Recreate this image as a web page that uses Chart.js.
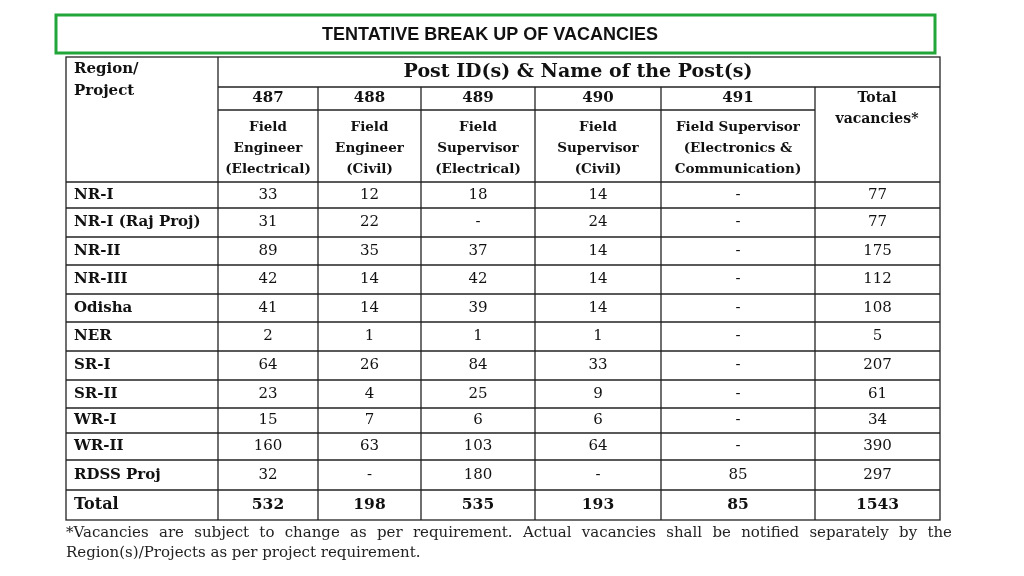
<!DOCTYPE html>
<html><head><meta charset="utf-8">
<script src="https://cdn.jsdelivr.net/npm/chart.js@4"></script>
<style>html,body{margin:0;padding:0;background:#fff}canvas{display:block}</style>
</head><body><canvas id="c" width="1024" height="576"></canvas>
<script>
const title = "TENTATIVE BREAK UP OF VACANCIES";
const postIds = ["487","488","489","490","491"];
const postNames = [["Field","Engineer","(Electrical)"],["Field","Engineer","(Civil)"],["Field","Supervisor","(Electrical)"],["Field","Supervisor","(Civil)"],["Field Supervisor","(Electronics &","Communication)"]];
const regions = ["NR-I","NR-I (Raj Proj)","NR-II","NR-III","Odisha","NER","SR-I","SR-II","WR-I","WR-II","RDSS Proj"];
const v487 = ["33","31","89","42","41","2","64","23","15","160","32"];
const v488 = ["12","22","35","14","14","1","26","4","7","63","-"];
const v489 = ["18","-","37","42","39","1","84","25","6","103","180"];
const v490 = ["14","24","14","14","14","1","33","9","6","64","-"];
const v491 = ["-","-","-","-","-","-","-","-","-","-","85"];
const totals = ["77","77","175","112","108","5","207","61","34","390","297"];
const grandTotals = ["532","198","535","193","85","1543"];
const footnote = ["*Vacancies are subject to change as per requirement. Actual vacancies shall be notified separately by the","Region(s)/Projects as per project requirement."];

const colX = [66,218,318,421,535,661,815,940];
const rowY = [182,208,237,265,294,322,351,380,408,433,460,490,520];

const tablePlugin = {
  id:'table',
  afterDraw(chart){
    const ctx = chart.ctx, xs = chart.scales.x, ys = chart.scales.y;
    const X = v=>xs.getPixelForValue(v), Y = v=>ys.getPixelForValue(v);
    const serif = '"DejaVu Serif", "Liberation Serif", serif';
    ctx.save();
    ctx.textBaseline='middle';
    ctx.strokeStyle='#22a63a'; ctx.lineWidth=3;
    ctx.strokeRect(X(56),Y(15),X(935)-X(56),Y(53)-Y(15));
    ctx.fillStyle='#111'; ctx.font='bold 18px "Liberation Sans", Arial, sans-serif';
    ctx.textAlign='center'; ctx.fillText(title,X(490),Y(35));
    ctx.strokeStyle='#222'; ctx.lineWidth=1.3;
    const line=(x1,y1,x2,y2)=>{ctx.beginPath();ctx.moveTo(X(x1),Y(y1));ctx.lineTo(X(x2),Y(y2));ctx.stroke();};
    ctx.strokeRect(X(66),Y(57),X(940)-X(66),Y(520)-Y(57));
    line(218,57,218,520);
    line(218,87,940,87);
    line(218,110,815,110);
    for(let i=2;i<colX.length-1;i++) line(colX[i],87,colX[i],520);
    for(const y of rowY.slice(0,-1)) line(66,y,940,y);
    ctx.font='bold 15px '+serif; ctx.textAlign='left';
    ctx.fillText('Region/',X(74),Y(69)); ctx.fillText('Project',X(74),Y(91));
    ctx.textAlign='center'; ctx.font='bold 19px '+serif;
    ctx.fillText('Post ID(s) & Name of the Post(s)',X(578),Y(72));
    for(let i=0;i<5;i++){
      const cx=(colX[i+1]+colX[i+2])/2;
      ctx.font='bold 15px '+serif;
      ctx.fillText(postIds[i],X(cx),Y(98));
      ctx.font='bold 13.5px '+serif;
      postNames[i].forEach((t,j)=>ctx.fillText(t,X(cx),Y(127+j*21)));
    }
    ctx.font='bold 14px '+serif;
    ctx.fillText('Total',X(877),Y(98)); ctx.fillText('vacancies*',X(877),Y(119));
    const cols=[v487,v488,v489,v490,v491,totals];
    for(let r=0;r<regions.length;r++){
      const cy=(rowY[r]+rowY[r+1])/2;
      ctx.textAlign='left'; ctx.font='bold 15px '+serif;
      ctx.fillText(regions[r],X(74),Y(cy));
      ctx.textAlign='center'; ctx.font='15px '+serif;
      cols.forEach((c,i)=>ctx.fillText(c[r],X((colX[i+1]+colX[i+2])/2),Y(cy)));
    }
    const ty=(rowY[11]+rowY[12])/2;
    ctx.textAlign='left'; ctx.font='bold 16px '+serif; ctx.fillText('Total',X(74),Y(ty));
    ctx.textAlign='center'; ctx.font='bold 15.5px '+serif;
    grandTotals.forEach((t,i)=>ctx.fillText(t,X((colX[i+1]+colX[i+2])/2),Y(ty)));
    // footnote, first line justified
    ctx.textAlign='left'; ctx.font='15px '+serif; ctx.fillStyle='#222';
    const words=footnote[0].split(' ');
    const wsum=words.reduce((s,w)=>s+ctx.measureText(w).width,0);
    const gap=((X(952)-X(66))-wsum)/(words.length-1);
    let px=X(66);
    for(const w of words){ctx.fillText(w,px,Y(533));px+=ctx.measureText(w).width+gap;}
    ctx.fillText(footnote[1],X(66),Y(553));
    ctx.restore();
  }
};

new Chart(document.getElementById('c'),{
  type:'scatter',
  data:{datasets:[{data:[],pointRadius:0}]},
  options:{responsive:false,animation:false,devicePixelRatio:1,
    layout:{padding:0},
    plugins:{legend:{display:false},tooltip:{enabled:false}},
    scales:{x:{type:'linear',display:false,min:0,max:1024},
            y:{type:'linear',display:false,min:0,max:576,reverse:true}}},
  plugins:[tablePlugin]
});
</script></body></html>
